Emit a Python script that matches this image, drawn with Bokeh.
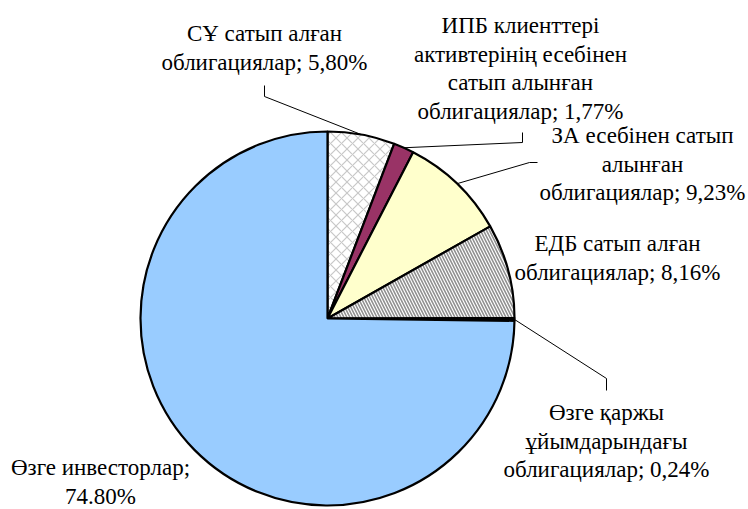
import numpy as np
from bokeh.plotting import figure
from bokeh.models import Range1d, ColumnDataSource
from bokeh.embed import file_html
from bokeh.resources import INLINE
from bokeh.core.properties import value

# ---- data ----
categories = [
    "СҰ сатып алған облигациялар",
    "ИПБ клиенттері активтерінің есебінен сатып алынған облигациялар",
    "ЗА есебінен сатып алынған облигациялар",
    "ЕДБ сатып алған облигациялар",
    "Өзге қаржы ұйымдарындағы облигациялар",
    "Өзге инвесторлар",
]
shares = [5.80, 1.77, 9.23, 8.16, 0.24, 74.80]
label_lines = [
    ["СҰ сатып алған", "облигациялар; 5,80%"],
    ["ИПБ клиенттері", "активтерінің есебінен", "сатып алынған", "облигациялар; 1,77%"],
    ["ЗА есебінен сатып", "алынған", "облигациялар; 9,23%"],
    ["ЕДБ сатып алған", "облигациялар; 8,16%"],
    ["Өзге қаржы", "ұйымдарындағы", "облигациялар; 0,24%"],
    ["Өзге инвесторлар;", "74.80%"],
]

# ---- styles / layout ----
fill_colors = ["#FFFFFF", "#993366", "#FFFFCC", "#FFFFFF", "#000000", "#99CCFF"]
hatch_patterns = ["diagonal_cross", "blank", "blank", "left_diagonal_line", "blank", "blank"]
hatch_colors = ["#C8C8C8", "#000000", "#000000", "#909090", "#000000", "#000000"]
hatch_scales = [11, 6, 6, 6, 6, 6]
hatch_weights = [1.2, 1, 1, 1.6, 1, 1]

W, H = 748, 509
def px(x):  # page x -> plot x
    return x
def py(y):  # page y -> plot y
    return H - y

cx, cy, R = px(327), py(318), 187

# label anchors (page coords: center x, first line center y)
label_pos = [(264, 33), (520, 25), (642, 135), (617, 243), (606, 412), (100, 467)]
line_gap = 28.5
# leader lines: label-side points (page coords); None = no leader
leader_pts = [
    [(264, 85), (264, 96)],
    [(522, 132), (522, 142)],
    [(537, 162), (529, 162)],
    None,
    [(606, 390), (606, 378)],
    None,
]

p = figure(width=W, height=H, output_backend="svg", toolbar_location=None,
           x_range=Range1d(0, W), y_range=Range1d(0, H), min_border=0)
p.axis.visible = False
p.grid.visible = False
p.outline_line_color = None
p.background_fill_color = "white"
p.border_fill_color = "white"

fr = np.array(shares) / sum(shares)
cum = np.concatenate([[0], np.cumsum(fr)])
start = np.pi / 2 - 2 * np.pi * cum[:-1]
end = np.pi / 2 - 2 * np.pi * cum[1:]

src = ColumnDataSource(dict(
    x=[cx] * len(shares), y=[cy] * len(shares), start=start, end=end,
    fill=fill_colors, hp=hatch_patterns, hc=hatch_colors, hs=hatch_scales, hw=hatch_weights,
))
p.wedge(x="x", y="y", radius=R, start_angle="end", end_angle="start", direction="anticlock",
        fill_color="fill", line_color="black", line_width=2.2,
        hatch_pattern="hp", hatch_color="hc", hatch_scale="hs", hatch_weight="hw", source=src)

# leader lines
mid = np.pi / 2 - 2 * np.pi * (cum[:-1] + fr / 2)
for i, pts in enumerate(leader_pts):
    if pts is None:
        continue
    xs = [px(a) for a, b in pts] + [cx + R * np.cos(mid[i])]
    ys = [py(b) for a, b in pts] + [cy + R * np.sin(mid[i])]
    p.line(xs, ys, line_color="black", line_width=1)

# labels
tx, ty, tt = [], [], []
for (lx, ly), lines in zip(label_pos, label_lines):
    for k, t in enumerate(lines):
        tx.append(px(lx)); ty.append(py(ly + k * line_gap)); tt.append(t)
p.text(x=tx, y=ty, text=tt, text_align="center", text_baseline="middle",
       text_font=value("Liberation Serif"), text_font_size="23px", text_color="black")

open("out.html", "w").write(file_html(p, INLINE))
